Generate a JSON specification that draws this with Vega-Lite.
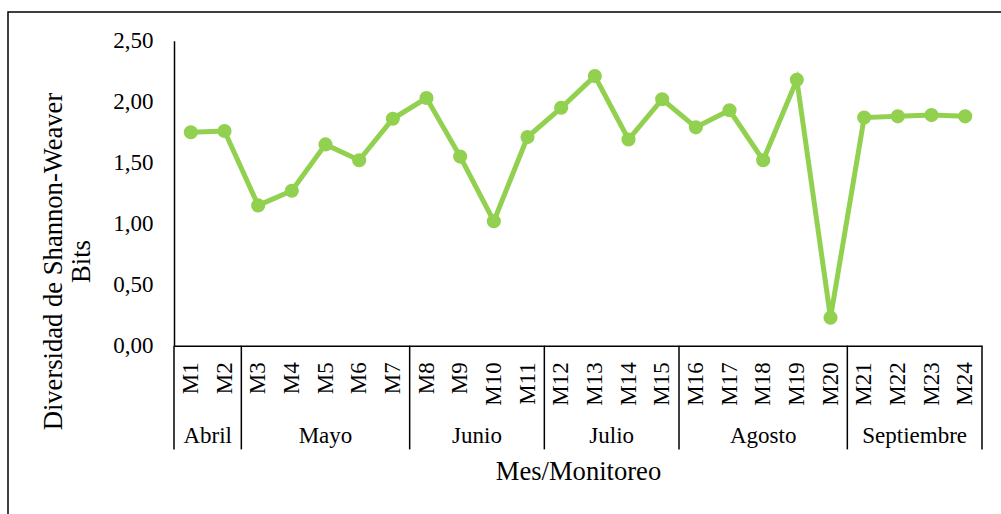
{
  "$schema": "https://vega.github.io/schema/vega-lite/v6.json",
  "width": 1003,
  "height": 512,
  "autosize": {"type": "none"},
  "padding": {"left": 8, "top": 12, "right": -10, "bottom": -10},
  "background": "white",
  "config": {
    "font": "Liberation Serif",
    "view": {"stroke": "black", "strokeWidth": 1.5}
  },
  "data": {
    "values": [
      {"m": "M1", "n": 1, "mes": "Abril", "v": 1.75},
      {"m": "M2", "n": 2, "mes": "Abril", "v": 1.76},
      {"m": "M3", "n": 3, "mes": "Mayo", "v": 1.15},
      {"m": "M4", "n": 4, "mes": "Mayo", "v": 1.27},
      {"m": "M5", "n": 5, "mes": "Mayo", "v": 1.65},
      {"m": "M6", "n": 6, "mes": "Mayo", "v": 1.52},
      {"m": "M7", "n": 7, "mes": "Mayo", "v": 1.86},
      {"m": "M8", "n": 8, "mes": "Junio", "v": 2.03},
      {"m": "M9", "n": 9, "mes": "Junio", "v": 1.55},
      {"m": "M10", "n": 10, "mes": "Junio", "v": 1.02},
      {"m": "M11", "n": 11, "mes": "Junio", "v": 1.71},
      {"m": "M12", "n": 12, "mes": "Julio", "v": 1.95},
      {"m": "M13", "n": 13, "mes": "Julio", "v": 2.21},
      {"m": "M14", "n": 14, "mes": "Julio", "v": 1.69},
      {"m": "M15", "n": 15, "mes": "Julio", "v": 2.02},
      {"m": "M16", "n": 16, "mes": "Agosto", "v": 1.79},
      {"m": "M17", "n": 17, "mes": "Agosto", "v": 1.93},
      {"m": "M18", "n": 18, "mes": "Agosto", "v": 1.52},
      {"m": "M19", "n": 19, "mes": "Agosto", "v": 2.18},
      {"m": "M20", "n": 20, "mes": "Agosto", "v": 0.23},
      {"m": "M21", "n": 21, "mes": "Septiembre", "v": 1.87},
      {"m": "M22", "n": 22, "mes": "Septiembre", "v": 1.88},
      {"m": "M23", "n": 23, "mes": "Septiembre", "v": 1.89},
      {"m": "M24", "n": 24, "mes": "Septiembre", "v": 1.88}
    ]
  },
  "layer": [
    {
      "encoding": {
        "x": {
          "field": "m",
          "type": "ordinal",
          "scale": {
            "domain": ["M1","M2","M3","M4","M5","M6","M7","M8","M9","M10","M11","M12","M13","M14","M15","M16","M17","M18","M19","M20","M21","M22","M23","M24"],
            "range": [166, 974],
            "paddingInner": 0,
            "paddingOuter": 0
          },
          "axis": {
            "title": "Mes/Monitoreo",
            "orient": "bottom",
            "offset": -178.3,
            "ticks": false,
            "grid": false,
            "labelAngle": 270,
            "labelAlign": "right",
            "labelBaseline": "middle",
            "labelPadding": 16,
            "labelFontSize": 23,
            "labelColor": "black",
            "labelOverlap": false,
            "labelFlush": false,
            "domainColor": "black",
            "domainWidth": 1.5,
            "titleFontSize": 26.6,
            "titleFontWeight": "normal",
            "titleColor": "black",
            "titleY": 133.6,
            "titleBaseline": "alphabetic"
          }
        }
      },
      "layer": [
        {
          "mark": {"type": "line", "color": "#92D050", "strokeWidth": 5},
          "encoding": {
            "y": {
              "field": "v",
              "type": "quantitative",
              "scale": {"domain": [0, 2.5], "range": [333.7, 28.7], "nice": false, "zero": false},
              "axis": {
                "title": ["Diversidad de Shannon-Weaver", "Bits"],
                "values": [0, 0.5, 1, 1.5, 2, 2.5],
                "labelExpr": "replace(format(datum.value, '.2f'), '.', ',')",
                "offset": -166,
                "grid": false,
                "ticks": false,
                "domainColor": "black",
                "domainWidth": 1.5,
                "labelFontSize": 23,
                "labelColor": "black",
                "labelPadding": 21,
                "titleFontSize": 26.6,
                "titleFontWeight": "normal",
                "titleColor": "black",
                "titleX": -113,
                "titleY": 249,
                "titleBaseline": "alphabetic",
                "titleLineHeight": 28.5
              }
            }
          }
        },
        {
          "mark": {"type": "point", "filled": true, "size": 200, "color": "#92D050", "opacity": 1},
          "encoding": {"y": {"field": "v", "type": "quantitative"}}
        },
        {
          "transform": [
            {"window": [{"op": "row_number", "as": "k"}], "groupby": ["mes"], "sort": [{"field": "n"}]},
            {"filter": "datum.k == 1"}
          ],
          "mark": {"type": "rule", "color": "black", "strokeWidth": 1.5},
          "encoding": {
            "x": {"field": "m", "type": "ordinal", "bandPosition": 0},
            "y": {"datum": 0},
            "y2": {"datum": -0.85}
          }
        },
        {
          "transform": [{"filter": "datum.n == 24"}],
          "mark": {"type": "rule", "color": "black", "strokeWidth": 1.5},
          "encoding": {
            "x": {"field": "m", "type": "ordinal", "bandPosition": 1},
            "y": {"datum": 0},
            "y2": {"datum": -0.85}
          }
        }
      ]
    },
    {
      "mark": {"type": "text", "fontSize": 23, "color": "black", "baseline": "alphabetic", "align": "center"},
      "encoding": {
        "x": {
          "aggregate": "mean",
          "field": "n",
          "type": "quantitative",
          "scale": {"domain": [0.5, 24.5], "range": [166, 974], "nice": false, "zero": false},
          "axis": null
        },
        "y": {"datum": -0.80},
        "text": {"field": "mes"}
      }
    }
  ],
  "resolve": {"scale": {"x": "independent"}}
}
